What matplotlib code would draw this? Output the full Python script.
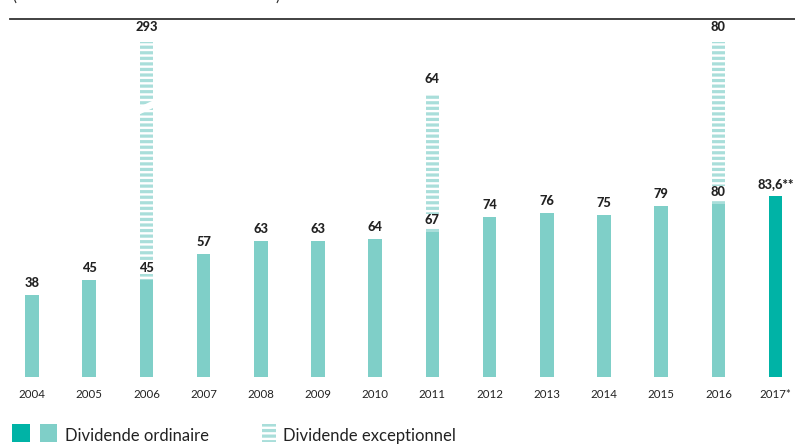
import numpy as np
import matplotlib
matplotlib.use("Agg")
from matplotlib import pyplot as plt
from matplotlib.patches import Rectangle, Polygon
from matplotlib.lines import Line2D

plt.rcParams["font.family"] = ["Lato", "DejaVu Sans"]
plt.rcParams["hatch.linewidth"] = 2.3

# Data
years = ["2004", "2005", "2006", "2007", "2008", "2009", "2010",
         "2011", "2012", "2013", "2014", "2015", "2016", "2017*"]
ordinary = [38, 45, 45, 57, 63, 63, 64, 67, 74, 76, 75, 79, 80, 83.6]
exceptional = [0, 0, 293, 0, 0, 0, 0, 64, 0, 0, 0, 0, 80, 0]
ordinary_labels = ["38", "45", "45", "57", "63", "63", "64",
                   "67", "74", "76", "75", "79", "80", "83,6**"]
exceptional_labels = ["", "", "293", "", "", "", "", "64", "", "", "", "", "80", ""]

LIGHT = "#7fcfc8"
DARK = "#00b3a6"
HATCH = "#a9deda"
TXT = "#222222"

W, H = 795, 445
fig = plt.figure(figsize=(W / 100, H / 100), dpi=100)
ax = fig.add_axes([0, 1 - 377 / H, 1, (377 - 42) / H])

YMAX = 155
x = np.arange(len(years))
colors = [LIGHT] * (len(years) - 1) + [DARK]
ax.bar(x, ordinary, width=0.24, color=colors, linewidth=0)
ax.bar(x, exceptional, bottom=ordinary, width=0.24, facecolor="white",
       edgecolor=HATCH, linewidth=0, hatch="---")

ax.set_xlim(-32 / 57.2, (W - 32) / 57.2)
ax.set_ylim(0, YMAX)
ax.set_yticks([])
ax.set_xticks(x)
ax.set_xticklabels(years, fontsize=8.3, color=TXT)
ax.tick_params(axis="x", length=0, pad=9)
for s in ax.spines.values():
    s.set_visible(False)

# break mark on the truncated 2006 bar
i06 = years.index("2006")
x0, x1 = i06 - 0.16, i06 + 0.16
ax.add_patch(Polygon([(x0, 121), (x1, 125), (x1, 128.5), (x0, 124.5)],
                     closed=True, facecolor="white", edgecolor="none", zorder=3))

# value labels
for i, (o, e) in enumerate(zip(ordinary, exceptional)):
    ax.text(i, o + 5.5, ordinary_labels[i], ha="center", va="center",
            fontsize=9.3, fontweight="black", color=TXT, zorder=4,
            bbox=dict(facecolor="white", edgecolor="none", pad=0.3) if e else None)
    if e:
        top = min(o + e, YMAX)
        ax.text(i, top + 7, exceptional_labels[i], ha="center", va="center",
                fontsize=9.3, fontweight="black", color=TXT, clip_on=False)

# header rule and cut-off subtitle
fig.add_artist(Line2D([10 / W, 1], [1 - 19 / H, 1 - 19 / H], color="#333333", lw=1.3))
fig.text(12 / W, 1 + 3 / H, "(", fontsize=11, color=TXT, ha="left", va="center")
fig.text(275 / W, 1 + 3 / H, ")", fontsize=11, color=TXT, ha="left", va="center")

# legend
fig.add_artist(Rectangle((12 / W, 1 - 442 / H), 18 / W, 18 / H, transform=fig.transFigure,
                         facecolor=DARK, edgecolor="none"))
fig.add_artist(Rectangle((40 / W, 1 - 442 / H), 17 / W, 18 / H, transform=fig.transFigure,
                         facecolor=LIGHT, edgecolor="none"))
fig.text(65 / W, 1 - 436 / H, "Dividende ordinaire", fontsize=12, color=TXT, va="center")
fig.add_artist(Rectangle((262 / W, 1 - 442 / H), 14 / W, 18 / H, transform=fig.transFigure,
                         facecolor="white", edgecolor=HATCH, linewidth=0, hatch="---"))
fig.text(283 / W, 1 - 436 / H, "Dividende exceptionnel", fontsize=12, color=TXT, va="center")

fig.savefig("out.png", dpi=100)
